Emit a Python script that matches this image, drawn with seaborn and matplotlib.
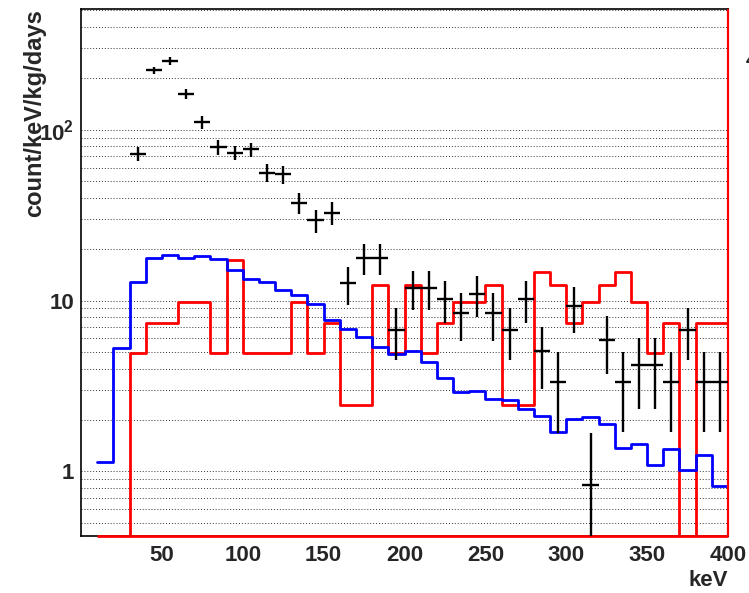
import numpy as np
import pandas as pd
import matplotlib
matplotlib.use("Agg")
import matplotlib.pyplot as plt
import seaborn as sns
from matplotlib.ticker import FixedLocator, MultipleLocator, NullFormatter, LogLocator

# ---------------- data ----------------
bin_edges = list(range(10, 401, 10))          # 10 keV bins, 10 .. 400 keV

blue_values = [1.14, 5.27, 12.8, 17.7, 18.6, 17.8, 18.3, 17.5, 15.2, 13.3,
               12.8, 11.5, 10.8, 9.6, 7.66, 6.78, 6.11, 5.34, 4.84, 5.04,
               4.36, 3.54, 2.91, 2.95, 2.67, 2.60, 2.31, 2.10, 1.70, 2.03,
               2.07, 1.89, 1.375, 1.445, 1.09, 1.35, 1.02, 1.25, 0.82]

red_values = [0, 0, 4.95, 7.42, 7.42, 9.85, 9.85, 4.95, 17.2, 4.95,
              4.95, 4.95, 9.85, 4.95, 7.42, 2.46, 2.46, 12.4, 4.92, 12.4,
              4.95, 7.42, 9.85, 9.85, 12.4, 2.46, 2.46, 14.7, 12.4, 7.42,
              9.85, 12.4, 14.7, 9.85, 4.95, 7.42, 0, 7.42, 7.42]

data_x = [35, 45, 55, 65, 75, 85, 95, 105, 115, 125, 135, 145, 155,
          165, 175, 185, 195, 205, 215, 225, 235, 245, 255, 265, 275, 285,
          295, 305, 315, 325, 335, 345, 355, 365, 375, 385, 395]
data_y = [72.4, 222.8, 254, 162, 111, 78.9, 73.5, 76.8, 56.1, 54.8, 37.2, 29.5, 32.7,
          12.6, 17.8, 17.8, 6.76, 11.9, 11.9, 10.2, 8.45, 11.0, 8.45, 6.76, 10.2, 5.04,
          3.33, 9.25, 0.836, 5.9, 3.35, 4.17, 4.17, 3.35, 6.76, 3.35, 3.35]
data_yerr = [7.1, 11.4, 13.7, 10.3, 9.4, 8.0, 7.2, 7.2, 6.7, 6.5, 5.2, 4.65, 5.0,
             3.2, 3.7, 3.7, 2.3, 3.1, 3.1, 2.8, 2.65, 3.0, 2.65, 2.3, 2.8, 2.0,
             1.65, 2.75, 0.85, 2.2, 1.65, 1.85, 1.85, 1.65, 2.3, 1.65, 1.65]
data_xerr = 5

x_ticks = [50, 100, 150, 200, 250, 300, 350, 400]
x_tick_labels = ["50", "100", "150", "200", "250", "300", "350", "400"]
y_ticks = [1, 10, 100]
y_tick_labels = ["1", "10", r"$\mathbf{10^{2}}$"]
x_range = (0, 400)
y_range = (0.42, 510)

# ---------------- style ----------------
sns.set_style("white")
plt.rcParams["font.family"] = ["Liberation Sans", "DejaVu Sans"]
plt.rcParams["font.weight"] = "bold"
plt.rcParams["mathtext.fontset"] = "custom"
plt.rcParams["mathtext.bf"] = "Liberation Sans:bold"
plt.rcParams["mathtext.rm"] = "Liberation Sans:bold"

fig = plt.figure(figsize=(7.49, 5.93), dpi=100)
ax = fig.add_axes([81 / 749, 1 - 535.7 / 593, (728 - 81) / 749, (535.7 - 9) / 593])
ax.set_yscale("log")

centers = [(a + b) / 2 for a, b in zip(bin_edges[:-1], bin_edges[1:])]
df = pd.DataFrame({"keV": centers, "red": red_values, "blue": blue_values})

sns.histplot(data=df, x="keV", weights="red", bins=bin_edges, element="step",
             fill=False, color="#ff0000", linewidth=2.0, ax=ax)
sns.histplot(data=df, x="keV", weights="blue", bins=bin_edges, element="step",
             fill=False, color="#0000ff", linewidth=2.0, ax=ax)

ax.errorbar(data_x, data_y, xerr=data_xerr, yerr=data_yerr, fmt="none",
            ecolor="black", elinewidth=1.7, capsize=0, zorder=4)

ax.set_xlim(*x_range)
ax.set_ylim(*y_range)

# closing outline of the red histogram (baseline and right edge as in ROOT)
ax.hlines(y_range[0], bin_edges[0], bin_edges[-1], color="#ff0000", lw=2.0,
          zorder=3, clip_on=False)
ax.vlines(bin_edges[-1], y_range[0], y_range[1], color="#ff0000", lw=1.6,
          zorder=3, clip_on=False)

# ticks
ax.xaxis.set_major_locator(FixedLocator(x_ticks))
ax.set_xticklabels(x_tick_labels)
ax.xaxis.set_minor_locator(MultipleLocator(10))
ax.yaxis.set_major_locator(FixedLocator(y_ticks))
ax.set_yticklabels(y_tick_labels)
ax.yaxis.set_minor_locator(LogLocator(base=10, subs=np.arange(2, 10)))
ax.yaxis.set_minor_formatter(NullFormatter())

ax.tick_params(axis="both", which="both", direction="in", top=False, right=False,
               color="black", width=1.0, labelsize=16)
ax.tick_params(axis="x", which="major", length=11.5, pad=7)
ax.tick_params(axis="x", which="minor", length=6)
ax.tick_params(axis="y", which="major", length=14.5, pad=5)
ax.tick_params(axis="y", which="minor", length=7)
for lab in ax.get_xticklabels() + ax.get_yticklabels():
    lab.set_fontweight("bold")

ax.yaxis.grid(True, which="both", linestyle=(0, (1, 2)), color="#333333", linewidth=0.7)
ax.xaxis.grid(False)
ax.set_axisbelow(True)

for side, sp in ax.spines.items():
    sp.set_color("black")
    sp.set_linewidth(1.2)
    sp.set_zorder(2.5)

ax.set_xlabel("keV", fontsize=16, fontweight="bold", loc="right")
ax.xaxis.set_label_coords(1.0, -0.066)
ax.set_ylabel("count/keV/kg/days", fontsize=17, fontweight="bold", loc="top")
ax.yaxis.set_label_coords(-0.054, 1.0)

# clipped fragment at the right border
fig.text(745.5 / 749, 1 - 62 / 593, "4", fontsize=14, fontweight="bold",
         ha="left", va="center")

fig.savefig("out.png", dpi=100)
